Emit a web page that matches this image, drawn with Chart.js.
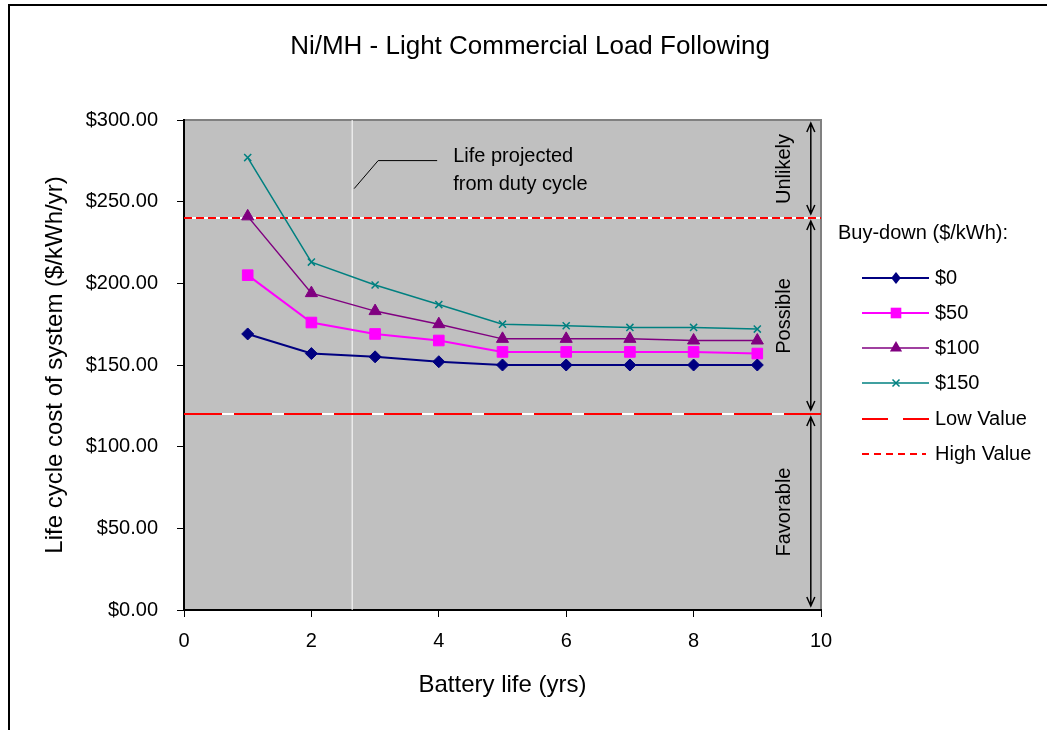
<!DOCTYPE html>
<html>
<head>
<meta charset="utf-8">
<title>Ni/MH - Light Commercial Load Following</title>
<script src="https://cdn.jsdelivr.net/npm/chart.js@4/dist/chart.umd.min.js"></script>
<style>
  body { margin: 0; background: #ffffff; }
</style>
</head>
<body>
<canvas id="lccChart" width="1047" height="730"></canvas>
<script>
// battery life (yrs) - x value shared by every series
var batteryLife = [1, 2, 3, 4, 5, 6, 7, 8, 9];

// life cycle cost of system ($/kWh/yr) for each buy-down level
var cost0 = [169, 157, 155, 152, 150, 150, 150, 150, 150];
var cost50 = [205, 176, 169, 165, 158, 158, 158, 158, 157];
var cost100 = [241, 194, 183, 175, 166, 166, 166, 165, 165];
var cost150 = [277, 213, 199, 187, 175, 174, 173, 173, 172];

var seriesNames = ["$0", "$50", "$100", "$150"];

// reference values and the projected life marker
var lowValue = 120;
var highValue = 240;
var projectedLife = 2.64;

// ranges shown on the right of the plot (top edge, bottom edge)
var rangeNames = ["Unlikely", "Possible", "Favorable"];
var rangeTops = [300, 240, 120];
var rangeBottoms = [240, 120, 0];

var chartTitle = "Ni/MH - Light Commercial Load Following";

var FONT = "'Liberation Sans', Arial, sans-serif";

// turn a values list into {x, y} points
function toPoints(values) {
  var pts = [];
  for (var i = 0; i < values.length; i++) {
    pts.push({ x: batteryLife[i], y: values[i] });
  }
  return pts;
}

function flatLine(v) {
  return [{ x: 0, y: v }, { x: 10, y: v }];
}

var seriesStyles = [
  { color: "#000080", point: "rectRot", radius: 6, width: 2 },
  { color: "#ff00ff", point: "rect", radius: 7.5, width: 2 },
  { color: "#800080", point: "triangle", radius: 7, width: 1.5 },
  { color: "#008080", point: "crossRot", radius: 5, width: 1.5 }
];
var seriesValues = [cost0, cost50, cost100, cost150];

var datasets = [];
for (var s = 0; s < seriesValues.length; s++) {
  datasets.push({
    label: seriesNames[s],
    data: toPoints(seriesValues[s]),
    borderColor: seriesStyles[s].color,
    backgroundColor: seriesStyles[s].color,
    borderWidth: seriesStyles[s].width,
    pointStyle: seriesStyles[s].point,
    pointRadius: seriesStyles[s].radius,
    pointBorderWidth: seriesStyles[s].point === "crossRot" ? 1.5 : 1,
    tension: 0
  });
}

// red dashes sit on a white line so the gaps show white
datasets.push({ label: "Low Value", data: flatLine(lowValue), borderColor: "#ff0000", borderWidth: 2, borderDash: [38, 12], pointRadius: 0 });
datasets.push({ label: "High Value", data: flatLine(highValue), borderColor: "#ff0000", borderWidth: 2, borderDash: [8, 4], pointRadius: 0 });
datasets.push({ label: "low base", data: flatLine(lowValue), borderColor: "#ffffff", borderWidth: 2, pointRadius: 0 });
datasets.push({ label: "high base", data: flatLine(highValue), borderColor: "#ffffff", borderWidth: 2, pointRadius: 0 });
datasets.push({
  label: "projected",
  data: [{ x: projectedLife, y: 0 }, { x: projectedLife, y: 300 }],
  borderColor: "#ffffff", borderWidth: 1, pointRadius: 0
});

// small marker painter for the hand drawn legend
function drawMarker(ctx, style, x, y, r, color) {
  ctx.save();
  ctx.fillStyle = color;
  ctx.strokeStyle = color;
  ctx.lineWidth = 1.5;
  ctx.beginPath();
  if (style === "rectRot") {
    ctx.moveTo(x, y - r); ctx.lineTo(x + r * 0.8, y); ctx.lineTo(x, y + r); ctx.lineTo(x - r * 0.8, y);
    ctx.closePath(); ctx.fill();
  } else if (style === "rect") {
    var h = r * Math.SQRT1_2;
    ctx.fillRect(x - h, y - h, 2 * h, 2 * h);
  } else if (style === "triangle") {
    ctx.moveTo(x, y - r); ctx.lineTo(x + r * 0.87, y + r * 0.5); ctx.lineTo(x - r * 0.87, y + r * 0.5);
    ctx.closePath(); ctx.fill();
  } else if (style === "crossRot") {
    var d = r * 0.7;
    ctx.moveTo(x - d, y - d); ctx.lineTo(x + d, y + d);
    ctx.moveTo(x + d, y - d); ctx.lineTo(x - d, y + d);
    ctx.stroke();
  }
  ctx.restore();
}

// open "V" arrow heads on a vertical range line
function drawRangeArrow(ctx, x, yTop, yBottom) {
  ctx.beginPath();
  ctx.moveTo(x, yTop); ctx.lineTo(x, yBottom);
  ctx.moveTo(x - 4, yTop + 9); ctx.lineTo(x, yTop); ctx.lineTo(x + 4, yTop + 9);
  ctx.moveTo(x - 4, yBottom - 9); ctx.lineTo(x, yBottom); ctx.lineTo(x + 4, yBottom - 9);
  ctx.stroke();
}

var decorPlugin = {
  id: "decor",
  beforeDraw: function (chart) {
    var ctx = chart.ctx;
    var a = chart.chartArea;
    ctx.save();
    // outer frame (left and top only)
    ctx.fillStyle = "#000000";
    ctx.fillRect(8, 4, 2, 726);
    ctx.fillRect(8, 4, 1039, 2);
    // grey plot area
    ctx.fillStyle = "#c0c0c0";
    ctx.fillRect(a.left, a.top, a.right - a.left, a.bottom - a.top);
    ctx.strokeStyle = "#808080";
    ctx.lineWidth = 2;
    ctx.beginPath();
    ctx.moveTo(a.left, a.top); ctx.lineTo(a.right, a.top); ctx.lineTo(a.right, a.bottom);
    ctx.stroke();
    // chart title, centred on the whole picture
    ctx.fillStyle = "#000000";
    ctx.font = "26px " + FONT;
    ctx.textAlign = "center";
    ctx.textBaseline = "middle";
    ctx.fillText(chartTitle, 530, 47);
    ctx.restore();
  },
  afterDraw: function (chart) {
    var ctx = chart.ctx;
    var xs = chart.scales.x;
    var ys = chart.scales.y;
    ctx.save();

    // range arrows and their labels
    var ax = xs.getPixelForValue(9.84);
    var lx = xs.getPixelForValue(9.43);
    ctx.strokeStyle = "#000000";
    ctx.lineWidth = 1.5;
    ctx.fillStyle = "#000000";
    ctx.font = "20px " + FONT;
    ctx.textAlign = "center";
    ctx.textBaseline = "middle";
    for (var i = 0; i < rangeNames.length; i++) {
      var yt = ys.getPixelForValue(rangeTops[i]) + 3;
      var yb = ys.getPixelForValue(rangeBottoms[i]) - 4;
      drawRangeArrow(ctx, ax, yt, yb);
      var ym = ys.getPixelForValue((rangeTops[i] + rangeBottoms[i]) / 2);
      ctx.save();
      ctx.translate(lx, ym);
      ctx.rotate(-Math.PI / 2);
      ctx.fillText(rangeNames[i], 0, 0);
      ctx.restore();
    }

    // callout for the projected life line
    var px = xs.getPixelForValue(projectedLife);
    var py = ys.getPixelForValue(258);
    ctx.lineWidth = 1;
    ctx.beginPath();
    ctx.moveTo(px + 2, py);
    ctx.lineTo(px + 26, py - 28);
    ctx.lineTo(px + 85, py - 28);
    ctx.stroke();
    ctx.textAlign = "left";
    ctx.font = "20px " + FONT;
    ctx.fillText("Life projected", px + 101, py - 32);
    ctx.fillText("from duty cycle", px + 101, py - 4);

    // legend
    ctx.fillText("Buy-down ($/kWh):", 838, 233);
    var rows = [278, 313, 348, 383, 419, 454];
    for (var k = 0; k < seriesNames.length; k++) {
      var st = seriesStyles[k];
      ctx.strokeStyle = st.color;
      ctx.lineWidth = st.width;
      ctx.setLineDash([]);
      ctx.beginPath();
      ctx.moveTo(862, rows[k]); ctx.lineTo(929, rows[k]);
      ctx.stroke();
      drawMarker(ctx, st.point, 896, rows[k], st.radius, st.color);
      ctx.fillStyle = "#000000";
      ctx.fillText(seriesNames[k], 935, rows[k]);
    }
    ctx.strokeStyle = "#ff0000";
    ctx.lineWidth = 2;
    ctx.beginPath();
    ctx.moveTo(862, rows[4]); ctx.lineTo(888, rows[4]);
    ctx.moveTo(903, rows[4]); ctx.lineTo(929, rows[4]);
    ctx.stroke();
    ctx.fillText("Low Value", 935, rows[4]);
    ctx.setLineDash([7, 5]);
    ctx.beginPath();
    ctx.moveTo(862, rows[5]); ctx.lineTo(926, rows[5]);
    ctx.stroke();
    ctx.setLineDash([]);
    ctx.fillText("High Value", 935, rows[5]);
    ctx.restore();
  }
};

var ctx = document.getElementById("lccChart").getContext("2d");
var myChart = new Chart(ctx, {
  type: "line",
  data: { datasets: datasets },
  plugins: [decorPlugin],
  options: {
    responsive: false,
    animation: false,
    devicePixelRatio: 1,
    layout: { padding: { left: 10, right: 226, top: 120, bottom: 0 } },
    plugins: {
      legend: { display: false },
      tooltip: { enabled: false },
      title: { display: false }
    },
    scales: {
      x: {
        type: "linear",
        min: 0,
        max: 10,
        afterFit: function (scale) { scale.height = 120; },
        ticks: { stepSize: 2, color: "#000000", padding: 12, font: { family: FONT, size: 20 } },
        grid: { drawOnChartArea: false, tickLength: 7, color: "#000000" },
        border: { color: "#000000", width: 2 },
        title: {
          display: true,
          text: "Battery life (yrs)",
          color: "#000000",
          font: { family: FONT, size: 24 },
          padding: { top: 0, bottom: 30 }
        }
      },
      y: {
        min: 0,
        max: 300,
        afterFit: function (scale) { scale.width = 174; },
        ticks: {
          stepSize: 50,
          color: "#000000",
          padding: 19,
          font: { family: FONT, size: 20 },
          callback: function (v) { return "$" + v.toFixed(2); }
        },
        grid: { drawOnChartArea: false, tickLength: 7, color: "#000000" },
        border: { color: "#000000", width: 2 },
        title: {
          display: true,
          text: "Life cycle cost of system ($/kWh/yr)",
          color: "#000000",
          font: { family: FONT, size: 24 },
          padding: { top: 31, bottom: 0 }
        }
      }
    }
  }
});
</script>
</body>
</html>
